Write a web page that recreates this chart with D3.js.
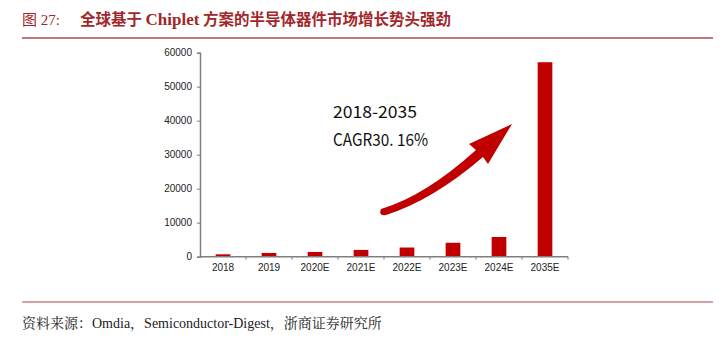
<!DOCTYPE html>
<html><head><meta charset="utf-8">
<script src="https://cdn.jsdelivr.net/npm/d3@7"></script>
<style>body{margin:0;background:#fff}</style>
</head><body>
<script>
const categories = ["2018","2019","2020E","2021E","2022E","2023E","2024E","2035E"];
const values = [700, 1100, 1400, 2000, 2700, 4100, 5800, 57200];
const yTicks = [0,10000,20000,30000,40000,50000,60000];
const titleLabel = "图 27:";
const titleParts = ["全球基于 ", "Chiplet", " 方案的半导体器件市场增长势头强劲"];
const sourceText = "资料来源：Omdia，Semiconductor-Digest，浙商证券研究所";
const annot = ["2018-2035", "CAGR30. 16%"];
const annotLen = [84, 95];

const W = 720, H = 344;
const svg = d3.select("body").append("svg").attr("width", W).attr("height", H);

// title
svg.append("text").attr("x", 22).attr("y", 25).attr("fill", "#a3262a")
  .style("font-family", "'Liberation Serif','Noto Sans CJK SC',serif").style("font-size", "15px")
  .text(titleLabel);
const tt = svg.append("text").attr("x", 80).attr("y", 25).attr("fill", "#a3262a")
  .style("font-weight", "bold").style("font-size", "15.5px");
tt.selectAll("tspan").data(titleParts).join("tspan")
  .style("font-family", (d,i) => i === 1 ? "'Liberation Serif',serif" : "'Noto Sans CJK SC',sans-serif")
  .style("font-size", (d,i) => i === 1 ? "17px" : "15.5px")
  .attr("xml:space", "preserve").style("white-space", "pre")
  .text(d => d);
svg.append("line").attr("x1", 22).attr("x2", 713).attr("y1", 38).attr("y2", 38)
  .attr("stroke", "#b5474a").attr("stroke-width", 1.5);
svg.append("line").attr("x1", 22).attr("x2", 713).attr("y1", 302).attr("y2", 302)
  .attr("stroke", "#b5474a").attr("stroke-width", 1.2);
svg.append("text").attr("x", 22).attr("y", 328).attr("fill", "#222")
  .style("font-family", "'Liberation Serif','Noto Serif CJK SC',serif").style("font-size", "14px")
  .text(sourceText);

const x = d3.scaleBand().domain(categories).range([200, 568]).paddingInner(0.68).paddingOuter(0.34);
const y = d3.scaleLinear().domain([0, 60000]).range([256.7, 52.7]);

const bars = svg.append("g");
bars.selectAll("rect").data(values).join("rect")
  .attr("x", (d,i) => x(categories[i]))
  .attr("width", x.bandwidth())
  .attr("y", d => y(d))
  .attr("height", d => y(0) - y(d))
  .attr("fill", "#c00000");

// y axis
const gy = svg.append("g").attr("transform", "translate(200,0)")
  .call(d3.axisLeft(y).tickValues(yTicks).tickSize(3).tickFormat(d3.format("d")));
gy.select(".domain").attr("stroke", "#7f7f7f").attr("stroke-width", 1.5);
gy.selectAll(".tick line").attr("stroke", "#7f7f7f");
gy.selectAll("text").style("font-family", "Arial,'Liberation Sans',sans-serif").style("font-size", "10px").attr("fill", "#222").attr("x", -8);

// x axis
const xb = d3.scaleLinear().domain([0, categories.length]).range([200, 568]);
const gx = svg.append("g").attr("transform", `translate(0,${y(0)})`);
gx.append("line").attr("x1", 200).attr("x2", 568).attr("stroke", "#7f7f7f").attr("stroke-width", 1.5);
gx.selectAll("line.tk").data(d3.range(1, categories.length + 1)).join("line").attr("class", "tk")
  .attr("x1", d => xb(d)).attr("x2", d => xb(d)).attr("y1", 0).attr("y2", 3).attr("stroke", "#7f7f7f");
gx.selectAll("text").data(categories).join("text")
  .attr("x", d => x(d) + x.bandwidth() / 2).attr("y", 14.5).attr("text-anchor", "middle")
  .style("font-family", "Arial,'Liberation Sans',sans-serif").style("font-size", "10px").attr("fill", "#222")
  .text(d => d);

// annotation
svg.selectAll("text.annot").data(annot).join("text").attr("class", "annot")
  .attr("x", 333).attr("y", (d,i) => 118 + i * 28)
  .attr("textLength", (d,i) => annotLen[i]).attr("lengthAdjust", "spacingAndGlyphs")
  .style("font-family", "'Noto Sans CJK SC',sans-serif").style("font-size", "17px").attr("fill", "#111")
  .text(d => d);

// arrow
svg.append("path")
  .attr("d", "M381,209 Q425,196 476,150 L469,144 L512,124 L488,164 L483,157 Q433,200 386,215 Q378,216 381,209 Z")
  .attr("fill", "#c00000");
</script>
</body></html>
